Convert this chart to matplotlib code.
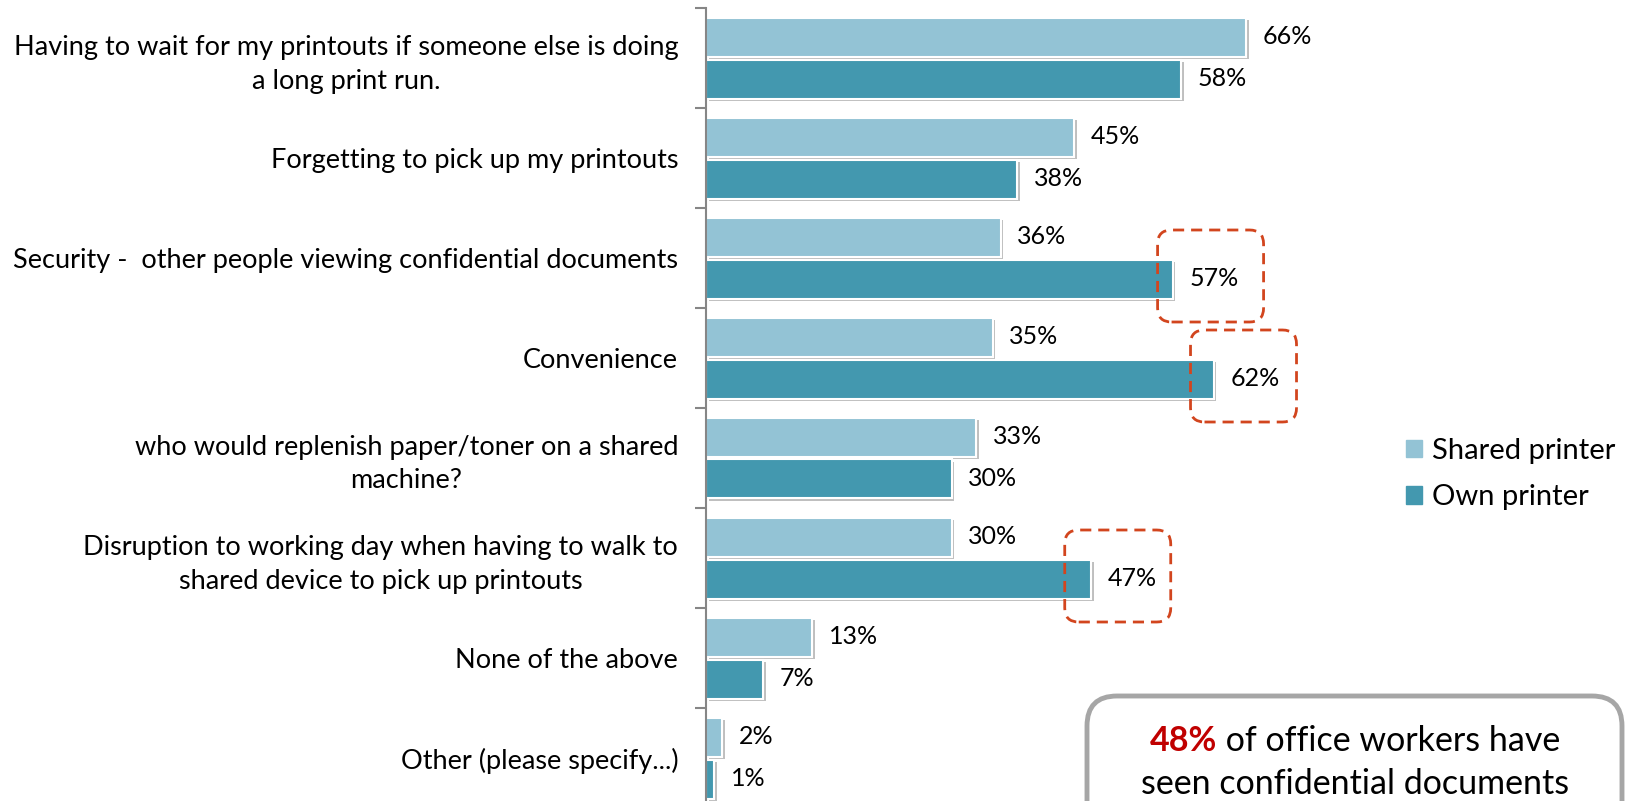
import numpy as np
import matplotlib
matplotlib.use('Agg')
import matplotlib.pyplot as plt
import matplotlib.patheffects as pe
from matplotlib.patches import FancyBboxPatch, Patch
from matplotlib.transforms import IdentityTransform

# data
categories = ['Having to wait for my printouts if someone else is doing\na long print run.',
              'Forgetting to pick up my printouts',
              'Security -  other people viewing confidential documents',
              'Convenience',
              'who would replenish paper/toner on a shared\nmachine?',
              'Disruption to working day when having to walk to\nshared device to pick up printouts',
              'None of the above',
              'Other (please specify...)']
shared = [66, 45, 36, 35, 33, 30, 13, 2]
own = [58, 38, 57, 62, 30, 47, 7, 1]
highlight = [2, 3, 5]   # own-printer values circled in the chart
series_names = ['Shared printer', 'Own printer']

c_shared = '#93C3D5'
c_own = '#4398AF'
font = 'Lato'
plt.rcParams['font.family'] = [font, 'DejaVu Sans']

W, H = 1627, 801
fig = plt.figure(figsize=(W / 100, H / 100), dpi=100)
ax = fig.add_axes([706 / W, -7 / H, 573 / W, 800 / H])

y = np.arange(len(categories))
shadow = [pe.withSimplePatchShadow(offset=(2, -2), shadow_rgbFace='k', alpha=0.25)]
b1 = ax.barh(y - 0.21, shared, height=0.39, color=c_shared, edgecolor='white',
             linewidth=1.5, path_effects=shadow)
b2 = ax.barh(y + 0.21, own, height=0.39, color=c_own, edgecolor='white',
             linewidth=1.5, path_effects=shadow)

for i in range(len(y)):
    ax.annotate(f'{shared[i]}%', (shared[i], y[i] - 0.21), xytext=(12, 0),
                textcoords='offset points', va='center', ha='left', fontsize=18)
    ax.annotate(f'{own[i]}%', (own[i], y[i] + 0.21), xytext=(12, 0),
                textcoords='offset points', va='center', ha='left', fontsize=18)

ax.set_xlim(0, 70)
ax.set_ylim(len(categories) - 0.5, -0.5)
ax.set_yticks(y)
ax.set_yticklabels(categories, fontsize=19.5, multialignment='center', linespacing=1.4)
ax.set_yticks(np.arange(len(categories) + 1) - 0.5, minor=True)
ax.tick_params(axis='y', which='major', length=0, pad=20)
ax.tick_params(axis='y', which='minor', length=8, width=1.5, color='#868686')
ax.set_xticks([])
for s in ['top', 'right', 'bottom']:
    ax.spines[s].set_visible(False)
ax.spines['left'].set_color('#868686')
ax.spines['left'].set_linewidth(1.5)

# dashed highlight boxes round the own-printer labels
box_shift = [38, 30, 27]
for k, i in enumerate(highlight):
    cx, cy = ax.transData.transform((own[i], y[i] + 0.21))
    cx += box_shift[k]
    cy += 3
    bw, bh = 76, 62
    box = FancyBboxPatch((cx - bw / 2, cy - bh / 2), bw, bh,
                         boxstyle='round,pad=15,rounding_size=14',
                         transform=IdentityTransform(), fill=False,
                         edgecolor='#D2451E', linewidth=2, linestyle=(0, (4, 2.5)))
    fig.add_artist(box)

# legend
handles = [Patch(color=c_shared), Patch(color=c_own)]
fig.legend(handles, series_names, loc='center left', bbox_to_anchor=(1380 / W, 1 - 474 / H),
           frameon=False, fontsize=21, handlelength=0.55, handleheight=0.55,
           handletextpad=0.35, labelspacing=0.7)

# callout box at bottom right
fig.add_artist(FancyBboxPatch((1087, -150), 535, 150 + (H - 696),
                              boxstyle='round,pad=0,rounding_size=30',
                              transform=IdentityTransform(), facecolor='white',
                              edgecolor='#A6A6A6', linewidth=3.5))
r = fig.canvas.get_renderer()
t1 = fig.text(0, 0, '48%', fontsize=24.5, color='#C00000', fontweight='bold',
              va='center', transform=IdentityTransform())
t2 = fig.text(0, 0, ' of office workers have', fontsize=24.5, va='center',
              transform=IdentityTransform())
w1 = t1.get_window_extent(r).width
w2 = t2.get_window_extent(r).width
x0 = 1355 - (w1 + w2) / 2
t1.set_position((x0, H - 741))
t2.set_position((x0 + w1, H - 741))
fig.text(1355, 1, 'seen confidential documents', fontsize=24.5, ha='center',
         va='bottom', transform=IdentityTransform())

fig.savefig('out.png', dpi=100)
